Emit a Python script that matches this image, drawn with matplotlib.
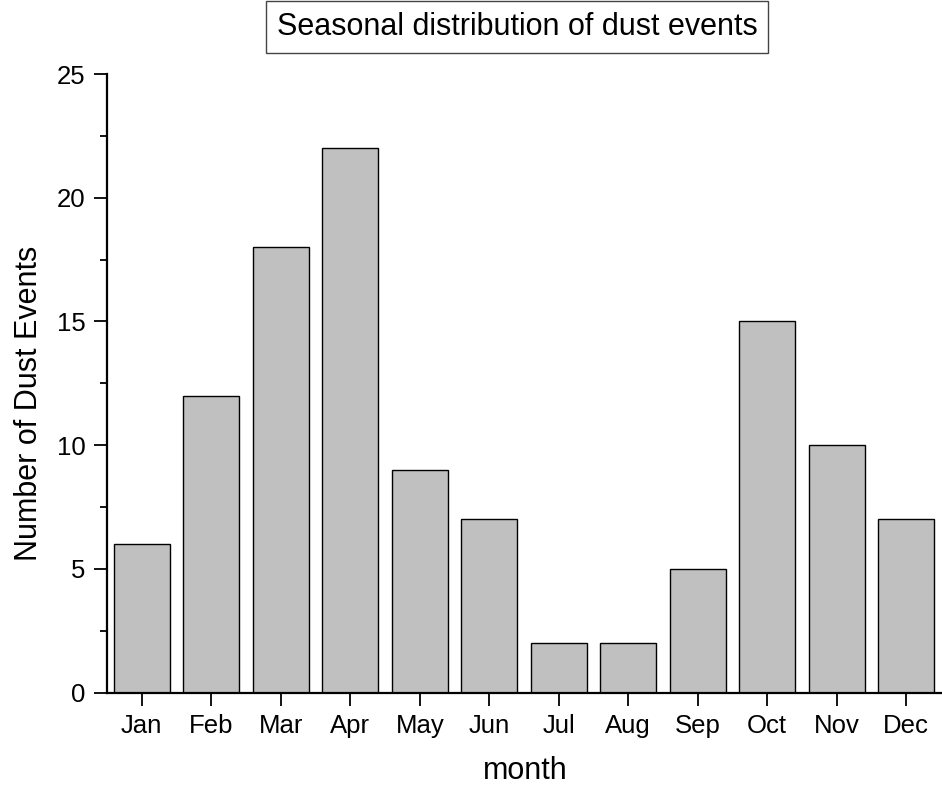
import matplotlib
matplotlib.use("Agg")
import matplotlib.pyplot as plt
from matplotlib.ticker import MultipleLocator

months = ["Jan", "Feb", "Mar", "Apr", "May", "Jun", "Jul", "Aug", "Sep", "Oct", "Nov", "Dec"]
events = [6, 12, 18, 22, 9, 7, 2, 2, 5, 15, 10, 7]

plt.rcParams['font.family'] = ['Liberation Sans', 'DejaVu Sans']

W, H = 942, 789
fig = plt.figure(figsize=(W/100, H/100), dpi=100)
ax = fig.add_axes([107/W, 1-692.7/H, (941-107)/W, (692.7-74)/H])

x = list(range(1, len(months) + 1))
ax.bar(x, events, width=0.8, color="#c0c0c0", edgecolor="black", linewidth=1.0, zorder=2)

ax.set_xlim(0.5, 12.5)
ax.set_ylim(0, 25)
ax.set_xticks(x)
ax.set_xticklabels(months)
ax.yaxis.set_major_locator(MultipleLocator(5))
ax.yaxis.set_minor_locator(MultipleLocator(2.5))

for s in ["top", "right"]:
    ax.spines[s].set_visible(False)
for s in ["left", "bottom"]:
    ax.spines[s].set_linewidth(1.6)

ax.tick_params(axis="both", which="major", direction="out", length=9.5, width=1.3, labelsize=18.5, pad=6)
ax.tick_params(axis="y", which="minor", direction="out", length=5, width=1.3)

fig.text(29/W, 1-403/H, "Number of Dust Events", fontsize=22, rotation=90,
         ha="center", va="center")
fig.text(525/W, 1-771/H, "month", fontsize=22, ha="center", va="center")

fig.text(517/W, 1-27/H, "Seasonal distribution of dust events", fontsize=22,
         ha="center", va="center",
         bbox=dict(boxstyle="square,pad=0.36", facecolor="white", edgecolor="#444444", linewidth=1.0))

fig.savefig("out.png", dpi=100)
